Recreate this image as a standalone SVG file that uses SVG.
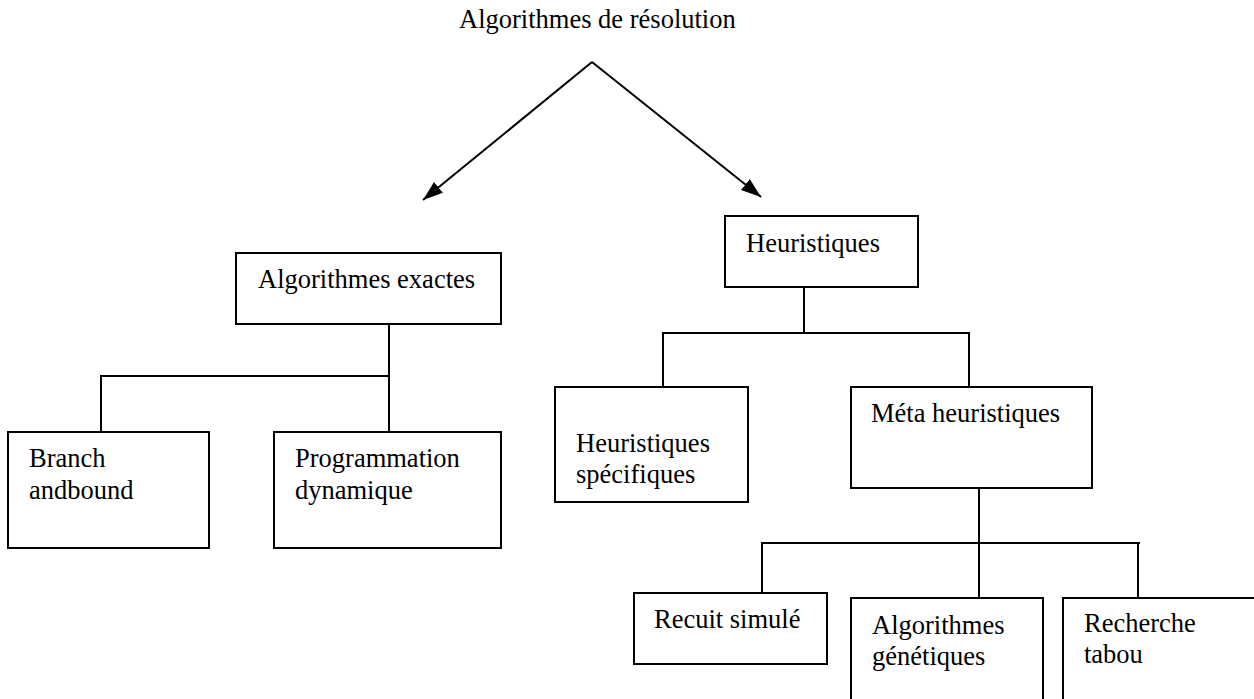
<svg xmlns="http://www.w3.org/2000/svg" width="1254" height="699" viewBox="0 0 1254 699">
<style>
  .box { fill: #ffffff; stroke: #000000; stroke-width: 2; }
  .lbl { font-family: "Liberation Serif", "Times New Roman", serif; font-size: 26.5px; fill: #000000; }
  .ln { fill: none; stroke: #000000; stroke-width: 2; }
</style>
<defs>
  <marker id="arr" markerUnits="userSpaceOnUse" markerWidth="22" markerHeight="18" refX="20" refY="9" orient="auto">
    <path d="M0,2 L20,9 L0,16 Z" fill="#000000"/>
  </marker>
</defs>
<rect width="1254" height="699" fill="#ffffff"/>

<g id="connectors">
  <line class="ln" x1="592" y1="62" x2="423" y2="200" marker-end="url(#arr)"/>
  <line class="ln" x1="592" y1="62" x2="761" y2="197" marker-end="url(#arr)"/>
  <polyline class="ln" points="389,324 389,432"/>
  <polyline class="ln" points="101,432 101,376 389,376"/>
  <polyline class="ln" points="804,287 804,333"/>
  <polyline class="ln" points="663,387 663,333 969,333 969,387"/>
  <polyline class="ln" points="979,488 979,598"/>
  <polyline class="ln" points="762,598 762,543 1140,543"/>
  <polyline class="ln" points="1138,543 1138,598"/>
</g>

<g id="title">
  <text class="lbl" x="459" y="28">Algorithmes de résolution</text>
</g>

<g id="algorithmes-exactes">
  <rect class="box" x="236" y="253" width="265" height="71"/>
  <text class="lbl" x="258" y="288">Algorithmes exactes</text>
</g>

<g id="branch-and-bound">
  <rect class="box" x="8" y="432" width="201" height="116"/>
  <text class="lbl" x="29" y="467">Branch</text>
  <text class="lbl" x="29" y="499">andbound</text>
</g>

<g id="programmation-dynamique">
  <rect class="box" x="274" y="432" width="227" height="116"/>
  <text class="lbl" x="295" y="467">Programmation</text>
  <text class="lbl" x="295" y="499">dynamique</text>
</g>

<g id="heuristiques">
  <rect class="box" x="725" y="216" width="193" height="71"/>
  <text class="lbl" x="746" y="252">Heuristiques</text>
</g>

<g id="heuristiques-specifiques">
  <rect class="box" x="555" y="387" width="193" height="115"/>
  <text class="lbl" x="576" y="452">Heuristiques</text>
  <text class="lbl" x="576" y="483">spécifiques</text>
</g>

<g id="meta-heuristiques">
  <rect class="box" x="851" y="387" width="241" height="101"/>
  <text class="lbl" x="871" y="422">Méta heuristiques</text>
</g>

<g id="recuit-simule">
  <rect class="box" x="634" y="593" width="193" height="71"/>
  <text class="lbl" x="654" y="628">Recuit simulé</text>
</g>

<g id="algorithmes-genetiques">
  <rect class="box" x="851" y="598" width="192" height="110"/>
  <text class="lbl" x="872" y="634">Algorithmes</text>
  <text class="lbl" x="872" y="665">génétiques</text>
</g>

<g id="recherche-tabou">
  <rect class="box" x="1063" y="598" width="200" height="110"/>
  <text class="lbl" x="1084" y="632">Recherche</text>
  <text class="lbl" x="1084" y="663">tabou</text>
</g>
</svg>
